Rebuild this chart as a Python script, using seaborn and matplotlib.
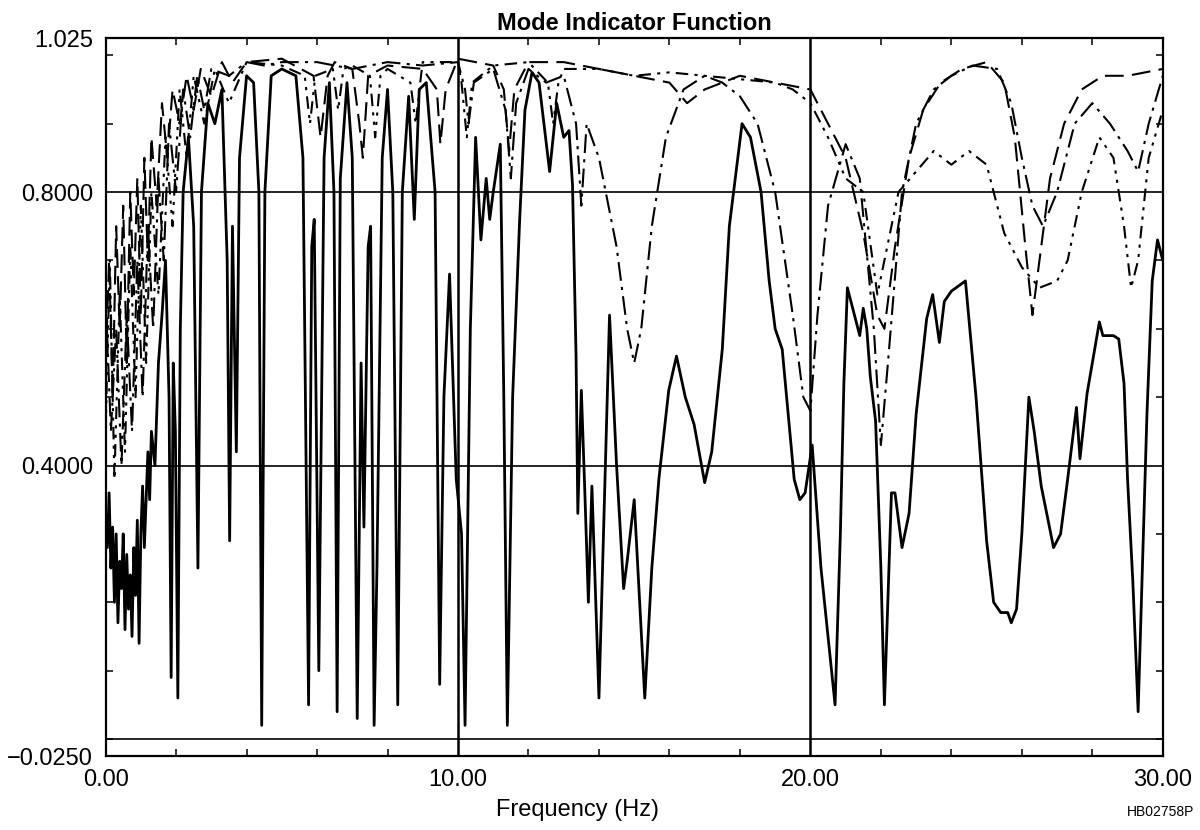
import numpy as np
import matplotlib
matplotlib.use("Agg")
import matplotlib.pyplot as plt
import seaborn as sns
from matplotlib.ticker import MultipleLocator, FixedLocator

# --- data (frequency in Hz, MIF value) ---
solid_hz = [0.00, 0.05, 0.10, 0.15, 0.20, 0.25, 0.30, 0.35, 0.40, 0.45, 0.50, 0.55,
            0.60, 0.65, 0.70, 0.75, 0.80, 0.85, 0.90, 0.95, 1.00, 1.05, 1.10, 1.20,
            1.25, 1.30, 1.40, 1.50, 1.60, 1.70, 1.80, 1.86, 1.92, 1.98, 2.05, 2.12,
            2.20, 2.35, 2.50, 2.62, 2.72, 2.90, 3.10, 3.30, 3.45, 3.52, 3.60, 3.71,
            3.80, 4.00, 4.20, 4.35, 4.43, 4.52, 4.70, 5.00, 5.40, 5.60, 5.76, 5.85,
            5.92, 6.05, 6.20, 6.35, 6.48, 6.57, 6.66, 6.85, 7.00, 7.14, 7.25, 7.33,
            7.45, 7.52, 7.62, 7.70, 7.85, 8.00, 8.15, 8.29, 8.42, 8.60, 8.76, 8.90,
            9.10, 9.35, 9.48, 9.60, 9.76, 9.95, 10.10, 10.20, 10.35, 10.50, 10.65,
            10.80, 10.90, 11.00, 11.20, 11.30, 11.40, 11.55, 11.75, 11.90, 12.10,
            12.30, 12.60, 12.80, 13.00, 13.15, 13.25, 13.35, 13.40, 13.50, 13.60,
            13.70, 13.80, 14.00, 14.30, 14.50, 14.70, 14.80, 15.00, 15.30, 15.50,
            15.70, 15.98, 16.20, 16.45, 16.70, 17.00, 17.20, 17.50, 17.70, 18.06,
            18.30, 18.60, 18.83, 19.00, 19.20, 19.54, 19.70, 19.85, 20.05, 20.30,
            20.70, 20.85, 20.95, 21.05, 21.20, 21.40, 21.50, 21.60, 21.70, 21.85,
            22.00, 22.10, 22.30, 22.40, 22.60, 22.80, 23.00, 23.30, 23.47, 23.66,
            23.80, 24.00, 24.40, 24.70, 25.00, 25.20, 25.40, 25.60, 25.70, 25.85,
            26.00, 26.20, 26.35, 26.55, 26.90, 27.10, 27.30, 27.55, 27.65, 27.85,
            28.20, 28.30, 28.60, 28.75, 28.90, 29.00, 29.15, 29.30, 29.45, 29.55,
            29.70, 29.85, 30.00]
solid_mif = [0.33, 0.28, 0.36, 0.25, 0.31, 0.20, 0.30, 0.17, 0.26, 0.22, 0.30, 0.16,
             0.27, 0.19, 0.24, 0.15, 0.28, 0.21, 0.32, 0.14, 0.30, 0.37, 0.28, 0.42,
             0.35, 0.45, 0.40, 0.55, 0.62, 0.70, 0.50, 0.09, 0.55, 0.45, 0.06, 0.60,
             0.80, 0.88, 0.75, 0.25, 0.80, 0.93, 0.90, 0.95, 0.70, 0.29, 0.75, 0.42,
             0.85, 0.97, 0.96, 0.80, 0.02, 0.80, 0.97, 0.98, 0.97, 0.85, 0.05, 0.72,
             0.76, 0.10, 0.85, 0.96, 0.80, 0.04, 0.82, 0.96, 0.85, 0.03, 0.55, 0.31,
             0.72, 0.75, 0.02, 0.25, 0.85, 0.95, 0.80, 0.05, 0.80, 0.94, 0.76, 0.95,
             0.96, 0.80, 0.08, 0.50, 0.68, 0.38, 0.30, 0.02, 0.60, 0.88, 0.73,
             0.82, 0.76, 0.80, 0.87, 0.50, 0.02, 0.50, 0.76, 0.92, 0.975,
             0.96, 0.83, 0.93, 0.88, 0.89, 0.81, 0.56, 0.33, 0.51, 0.36,
             0.20, 0.37, 0.06, 0.62, 0.40, 0.22, 0.26, 0.35, 0.06, 0.25,
             0.38, 0.51, 0.56, 0.50, 0.46, 0.375, 0.42, 0.57, 0.75, 0.90,
             0.88, 0.80, 0.67, 0.60, 0.57, 0.38, 0.35, 0.36, 0.43, 0.25,
             0.05, 0.30, 0.52, 0.66, 0.63, 0.59, 0.63, 0.60, 0.53, 0.465,
             0.25, 0.05, 0.36, 0.36, 0.28, 0.33, 0.475, 0.615, 0.65, 0.58,
             0.64, 0.655, 0.67, 0.50, 0.29, 0.20, 0.185, 0.185, 0.17, 0.19,
             0.30, 0.50, 0.45, 0.37, 0.28, 0.30, 0.38, 0.485, 0.41, 0.505,
             0.61, 0.59, 0.59, 0.585, 0.52, 0.38, 0.23, 0.04, 0.30, 0.475,
             0.67, 0.73, 0.70]

dash_hz = [0.0, 0.1, 0.2, 0.3, 0.4, 0.5, 0.6, 0.7, 0.8, 0.9, 1.0, 1.1, 1.2, 1.3,
           1.45, 1.6, 1.75, 1.9, 2.1, 2.3, 2.5, 2.7, 3.0, 3.3, 3.6, 4.0, 5.0, 5.9,
           6.1, 6.3, 6.5, 7.0, 7.2, 7.3, 7.45, 8.0, 9.0, 9.4, 9.5, 9.65, 10.0,
           11.0, 11.3, 11.45, 11.6, 12.0, 13.0, 14.0, 15.0, 16.0, 16.5, 17.0, 18.0,
           19.0, 20.0, 20.5, 21.0, 21.5, 21.9, 22.1, 22.4, 22.8, 23.2, 23.7, 24.3,
           25.0, 25.5, 25.8, 26.1, 26.3, 26.5, 26.8, 27.2, 27.7, 28.3, 29.0, 29.5,
           30.0]
dash_mif = [0.55, 0.70, 0.50, 0.75, 0.60, 0.78, 0.55, 0.80, 0.65, 0.82, 0.62, 0.85,
            0.70, 0.88, 0.78, 0.93, 0.85, 0.95, 0.90, 0.97, 0.92, 0.98, 0.94, 0.99,
            0.96, 0.99, 0.995, 0.97, 0.88, 0.97, 0.99, 0.98, 0.90, 0.85, 0.97, 0.985,
            0.98, 0.95, 0.87, 0.95, 0.995, 0.985, 0.95, 0.86, 0.95, 0.99, 0.99, 0.98,
            0.97, 0.96, 0.93, 0.95, 0.97, 0.96, 0.95, 0.90, 0.85, 0.74, 0.62, 0.60,
            0.72, 0.85, 0.92, 0.96, 0.98, 0.99, 0.96, 0.88, 0.72, 0.62, 0.70, 0.82,
            0.90, 0.95, 0.97, 0.97, 0.975, 0.98]

dashdot_hz = [0.0, 0.15, 0.3, 0.45, 0.6, 0.75, 0.9, 1.05, 1.2, 1.35, 1.5, 1.65, 1.8,
              2.0, 2.2, 2.4, 2.6, 2.8, 3.0, 3.5, 4.0, 4.5, 5.0, 6.0, 7.0, 8.0, 9.0,
              10.0, 10.2, 10.3, 10.45, 11.0, 11.35, 11.5, 11.65, 12.0, 12.5, 13.0,
              13.35, 13.5, 13.65, 14.0, 14.5, 14.8, 15.0, 15.2, 15.5, 15.9, 16.4,
              17.0, 17.5, 18.0, 18.5, 19.0, 19.5, 19.8, 20.0, 20.2, 20.5, 21.0,
              21.4, 21.8, 22.0, 22.2, 22.6, 23.0, 23.5, 24.0, 24.6, 25.3, 25.7, 26.0,
              26.3, 26.6, 27.0, 27.5, 28.0, 28.5, 29.0, 29.3, 29.6, 30.0]
dashdot_mif = [0.65, 0.45, 0.60, 0.40, 0.62, 0.45, 0.70, 0.50, 0.75, 0.60, 0.82, 0.70,
               0.90, 0.80, 0.95, 0.88, 0.97, 0.92, 0.98, 0.97, 0.99, 0.985, 0.99,
               0.99, 0.98, 0.99, 0.985, 0.99, 0.95, 0.90, 0.96, 0.98, 0.92, 0.82,
               0.93, 0.98, 0.96, 0.97, 0.90, 0.78, 0.90, 0.85, 0.72, 0.60, 0.55, 0.60,
               0.75, 0.88, 0.95, 0.97, 0.96, 0.94, 0.90, 0.80, 0.62, 0.50, 0.48, 0.62,
               0.78, 0.87, 0.82, 0.60, 0.43, 0.55, 0.80, 0.90, 0.95, 0.97, 0.985,
               0.98, 0.93, 0.85, 0.78, 0.75, 0.80, 0.90, 0.93, 0.90, 0.86, 0.83, 0.90,
               0.97]

dashdotdot_hz = [0.0, 0.12, 0.25, 0.4, 0.55, 0.7, 0.85, 1.0, 1.15, 1.3, 1.5, 1.7, 1.9,
                 2.1, 2.3, 2.5, 2.8, 3.1, 3.5, 4.0, 5.0, 5.65, 5.8, 5.95, 6.45, 6.6,
                 6.75, 7.0, 7.5, 7.65, 7.8, 8.0, 8.65, 8.8, 8.95, 9.0, 10.0, 10.1,
                 10.25, 10.4, 11.0, 12.0, 12.55, 12.7, 12.85, 13.0, 14.0, 15.0, 16.0,
                 17.0, 18.0, 19.0, 19.5, 20.0, 20.5, 21.0, 21.5, 21.9, 22.1, 22.5,
                 23.0, 23.5, 24.0, 24.5, 25.0, 25.5, 26.0, 26.5, 27.0, 27.3, 27.7,
                 28.2, 28.6, 28.9, 29.1, 29.3, 29.6, 30.0]
dashdotdot_mif = [0.45, 0.70, 0.38, 0.65, 0.42, 0.72, 0.50, 0.78, 0.55, 0.80, 0.65,
                  0.88, 0.75, 0.95, 0.85, 0.97, 0.90, 0.98, 0.93, 0.99, 0.985, 0.97,
                  0.90, 0.97, 0.98, 0.92, 0.98, 0.985, 0.97, 0.88, 0.97, 0.98, 0.96,
                  0.90, 0.97, 0.99, 0.99, 0.96, 0.88, 0.96, 0.985, 0.99, 0.96, 0.90,
                  0.96, 0.98, 0.98, 0.97, 0.975, 0.97, 0.965, 0.96, 0.95, 0.93, 0.88,
                  0.82, 0.80, 0.65, 0.70, 0.80, 0.83, 0.86, 0.84, 0.86, 0.84, 0.74,
                  0.69, 0.66, 0.67, 0.70, 0.80, 0.88, 0.85, 0.75, 0.66, 0.70, 0.85,
                  0.92]

ytick_vals = [-0.025, 0.4, 0.8, 1.025]
ytick_labels = ["\u22120.0250", "0.4000", "0.8000", "1.025"]
xtick_vals = [0, 10, 20, 30]
xtick_labels = ["0.00", "10.00", "20.00", "30.00"]

sns.set_style("ticks")
plt.rcParams["font.family"] = ["Liberation Sans", "DejaVu Sans"]
plt.rcParams["text.color"] = "black"
plt.rcParams["axes.labelcolor"] = "black"

fig = plt.figure(figsize=(12, 8.3), dpi=100)
ax = fig.add_axes([0.088, 0.089, 0.881, 0.865])

curves = [
    (solid_hz, solid_mif, "-", 2.0),
    (dash_hz, dash_mif, (0, (9, 4)), 1.5),
    (dashdot_hz, dashdot_mif, (0, (9, 3, 1.5, 3)), 1.5),
    (dashdotdot_hz, dashdotdot_mif, (0, (6, 3, 1.5, 3, 1.5, 3)), 1.5),
]
for hz, mif, ls, lw in curves:
    sns.lineplot(x=hz, y=mif, color="black", linestyle=ls, linewidth=lw,
                 estimator=None, sort=False, errorbar=None, ax=ax)

# reference lines of the original plot
for yv in [0.0, 0.4, 0.8]:
    ax.axhline(yv, color="black", linewidth=1.2, zorder=1)
for xv in [10, 20]:
    ax.axvline(xv, color="black", linewidth=1.8, zorder=1)

ax.set_xlim(0, 30)
ax.set_ylim(-0.025, 1.025)
ax.xaxis.set_major_locator(FixedLocator(xtick_vals))
ax.set_xticklabels(xtick_labels)
ax.yaxis.set_major_locator(FixedLocator(ytick_vals))
ax.set_yticklabels(ytick_labels)
ax.xaxis.set_minor_locator(MultipleLocator(2))
ax.yaxis.set_minor_locator(MultipleLocator(0.1))
ax.tick_params(which="major", length=0, labelsize=17, pad=9,
               colors="black", labelcolor="black")
ax.tick_params(which="minor", direction="in", length=5, width=1.3,
               top=True, right=True, bottom=True, left=True)

for sp in ax.spines.values():
    sp.set_visible(True)
    sp.set_linewidth(1.6)
    sp.set_color("black")

ax.set_title("Mode Indicator Function", fontsize=17, fontweight="bold",
             pad=6, color="black")
ax.set_xlabel("")
ax.set_ylabel("")
fig.text(0.481, 0.024, "Frequency (Hz)", fontsize=17, ha="center", va="center",
         color="black")
fig.text(0.939, 0.022, "HB02758P", fontsize=10, ha="left", va="center",
         color="black")

fig.savefig("out.png", dpi=100)
